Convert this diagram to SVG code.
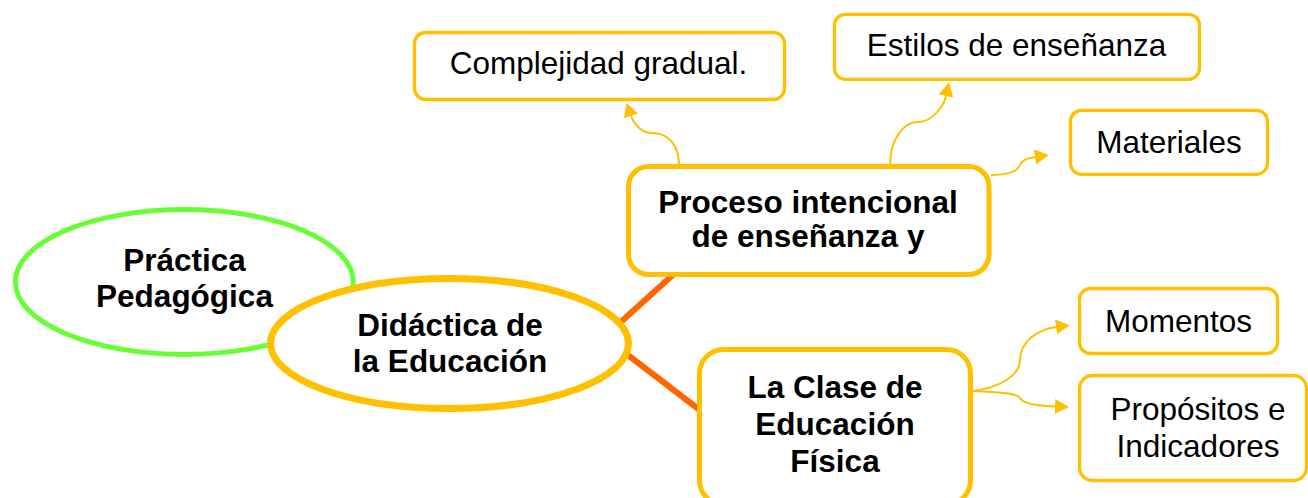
<svg xmlns="http://www.w3.org/2000/svg" width="1308" height="498" viewBox="0 0 1308 498">
<style>
  .bg { fill: #ffffff; }
  .t { font-family: "Liberation Sans", Arial, sans-serif; font-size: 31.5px; fill: #000000; text-anchor: middle; }
  .b { font-weight: bold; }
  .box { fill: #ffffff; stroke: #FFC000; stroke-width: 3.3; }
  .bigbox { fill: #ffffff; stroke: #FFC000; stroke-width: 5; }
  .main { stroke: #FF6600; stroke-width: 6; fill: none; }
  .sub { stroke: #FFC000; stroke-width: 2; fill: none; marker-end: url(#arr); }
</style>
<defs>
  <marker id="arr" markerUnits="userSpaceOnUse" markerWidth="16" markerHeight="16" refX="0" refY="7.5" orient="auto">
    <path d="M0,0 L14,7.5 L0,15 z" fill="#FFC000"/>
  </marker>
</defs>
<rect class="bg" x="0" y="0" width="1308" height="498"/>

<g id="connectors">
  <path class="main" d="M612,330 L675,273"/>
  <path class="main" d="M620,349 L705,414"/>
  <path class="sub" d="M679,165 C679,145 668,133 652,133 C640,133 633,122 631,116"/>
  <path class="sub" d="M890,165 C890,140 903,122 918,122 C933,122 944,105 946,96"/>
  <path class="sub" d="M991,175 C1005,175 1018,172 1020,165 C1022,160 1028,158 1035,157"/>
  <path class="sub" d="M972,391 C1000,388 1020,375 1020,360 C1020,340 1040,329 1056,327"/>
  <path class="sub" d="M972,391 C995,392 1018,393 1020,398 C1023,404 1040,406 1055,406.5"/>
</g>

<g id="node-practica">
  <ellipse cx="184.3" cy="282" rx="169" ry="72.5" fill="#ffffff" stroke="#66FF33" stroke-width="5"/>
  <text class="t b" x="184.5" y="270.7">Práctica</text>
  <text class="t b" x="184.5" y="307.3">Pedagógica</text>
</g>

<g id="node-didactica">
  <ellipse cx="449.5" cy="343.5" rx="179" ry="65" fill="#ffffff" stroke="#FFC000" stroke-width="7"/>
  <text class="t b" x="450" y="336">Didáctica de</text>
  <text class="t b" x="450" y="371.7">la Educación</text>
</g>

<g id="node-proceso">
  <rect class="bigbox" x="628.5" y="166.5" width="360.5" height="108" rx="20"/>
  <text class="t b" x="808" y="213.3">Proceso intencional</text>
  <text class="t b" x="808" y="246.7">de enseñanza y</text>
</g>

<g id="node-clase">
  <rect class="bigbox" x="699.5" y="349.5" width="271" height="155" rx="24"/>
  <text class="t b" x="835" y="397.7">La Clase de</text>
  <text class="t b" x="835" y="435">Educación</text>
  <text class="t b" x="835" y="471.7">Física</text>
</g>

<g id="node-complejidad">
  <rect class="box" x="414.5" y="32.5" width="370" height="67" rx="11"/>
  <text class="t" x="598.5" y="74">Complejidad gradual.</text>
</g>

<g id="node-estilos">
  <rect class="box" x="834.5" y="14.3" width="365" height="65" rx="11"/>
  <text class="t" x="1016.5" y="56">Estilos de enseñanza</text>
</g>

<g id="node-materiales">
  <rect class="box" x="1070.5" y="110.3" width="197" height="64" rx="11"/>
  <text class="t" x="1169" y="153.3">Materiales</text>
</g>

<g id="node-momentos">
  <rect class="box" x="1079.5" y="288.5" width="198" height="65" rx="11"/>
  <text class="t" x="1178.5" y="331.7">Momentos</text>
</g>

<g id="node-propositos">
  <rect class="box" x="1079.5" y="375.5" width="227" height="105" rx="13"/>
  <text class="t" x="1198" y="420">Propósitos e</text>
  <text class="t" x="1198" y="456.7">Indicadores</text>
</g>
</svg>
